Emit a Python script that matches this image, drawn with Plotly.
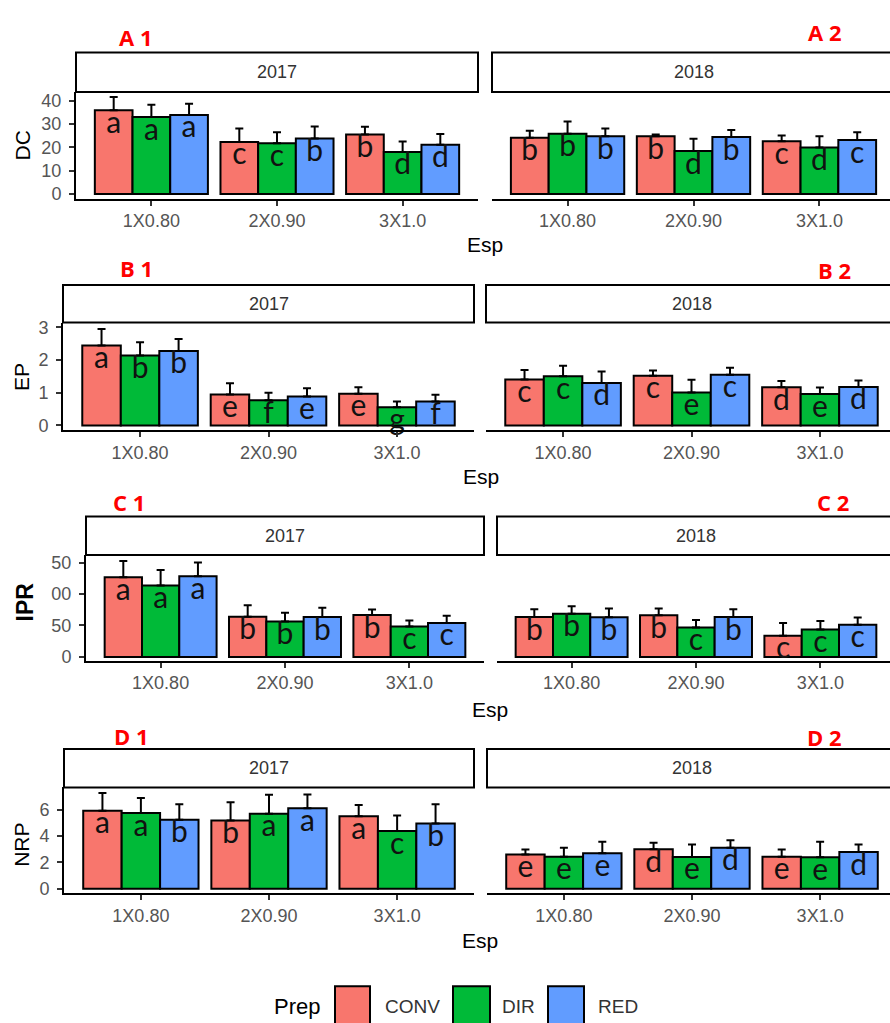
import plotly.graph_objects as go

# ---------------- data ----------------
ESP = ["1X0.80", "2X0.90", "3X1.0"]
PREP = ["CONV", "DIR", "RED"]
YEARS = ["2017", "2018"]
COLORS = ["#F8766D", "#00BA38", "#619CFF"]

# rows: [CONV, DIR, RED], each over ESP
DC_2017_MEAN = [[35.9, 22.3, 25.5], [33.0, 21.7, 18.0], [33.9, 23.8, 21.1]]
DC_2017_SD = [[5.7, 5.8, 3.3], [5.3, 4.8, 4.5], [4.8, 5.1, 4.6]]
DC_2018_MEAN = [[24.1, 24.7, 22.6], [25.8, 18.4, 19.9], [24.7, 24.4, 23.1]]
DC_2018_SD = [[3.0, 0.8, 2.5], [5.3, 5.3, 4.9], [3.4, 3.0, 3.4]]
DC_2017_LET = [["a", "c", "b"], ["a", "c", "d"], ["a", "b", "d"]]
DC_2018_LET = [["b", "b", "c"], ["b", "d", "d"], ["b", "b", "c"]]
DC_TICKS = [0, 10, 20, 30, 40]

EP_2017_MEAN = [[2.45, 0.95, 0.97], [2.14, 0.77, 0.56], [2.28, 0.89, 0.73]]
EP_2017_SD = [[0.50, 0.34, 0.20], [0.41, 0.23, 0.17], [0.37, 0.25, 0.21]]
EP_2018_MEAN = [[1.41, 1.52, 1.17], [1.51, 1.01, 0.96], [1.30, 1.55, 1.18]]
EP_2018_SD = [[0.29, 0.16, 0.19], [0.32, 0.39, 0.20], [0.35, 0.22, 0.20]]
EP_2017_LET = [["a", "e", "e"], ["b", "f", "g"], ["b", "e", "f"]]
EP_2018_LET = [["c", "c", "d"], ["c", "e", "e"], ["d", "c", "d"]]
EP_TICKS = [0, 1, 2, 3]

IPR_2017_MEAN = [[126.6, 64.0, 66.6], [113.4, 56.2, 48.4], [128.0, 63.4, 54.1]]
IPR_2017_SD = [[25.9, 18.2, 8.9], [24.6, 14.1, 9.4], [22.0, 14.7, 11.5]]
IPR_2018_MEAN = [[63.4, 66.1, 33.8], [68.8, 46.9, 43.8], [63.0, 63.4, 51.0]]
IPR_2018_SD = [[12.5, 10.9, 20.3], [11.8, 11.9, 13.4], [14.0, 12.5, 11.5]]
IPR_2017_LET = [["a", "b", "b"], ["a", "b", "c"], ["a", "b", "c"]]
IPR_2018_LET = [["b", "b", "c"], ["b", "c", "c"], ["b", "b", "c"]]
IPR_TICKS = [0, 50, 100, 150]
IPR_TICKTEXT = ["0", "50", "00", "50"]  # as visible (cropped) in the source

NRP_2017_MEAN = [[5.93, 5.18, 5.50], [5.75, 5.70, 4.38], [5.25, 6.12, 4.95]]
NRP_2017_SD = [[1.34, 1.39, 0.87], [1.15, 1.44, 1.19], [1.17, 1.04, 1.47]]
NRP_2018_MEAN = [[2.61, 3.01, 2.44], [2.44, 2.42, 2.39], [2.71, 3.11, 2.79]]
NRP_2018_SD = [[0.38, 0.48, 0.55], [0.67, 0.94, 1.19], [0.87, 0.58, 0.57]]
NRP_2017_LET = [["a", "b", "a"], ["a", "a", "c"], ["b", "a", "b"]]
NRP_2018_LET = [["e", "d", "e"], ["e", "e", "e"], ["e", "d", "d"]]
NRP_TICKS = [0, 2, 4, 6]

# ---------------- layout helpers ----------------
W, H = 890, 1023


def px(x):
    return x / W


def py(y):
    return 1 - y / H


ROWS = [
    dict(name="DC", mean=[DC_2017_MEAN, DC_2018_MEAN], sd=[DC_2017_SD, DC_2018_SD],
         let=[DC_2017_LET, DC_2018_LET], yrange=[-2.1, 43.7], tickvals=DC_TICKS,
         ticktext=[str(t) for t in DC_TICKS], strip=(48, 88), bottom=196,
         panels=[(76, 478), (492, 895)], title_xy=(22, 142), bold=False,
         esp_xy=(485, 242), tags=[("A 1", 135, 32), ("A 2", 824, 27)]),
    dict(name="EP", mean=[EP_2017_MEAN, EP_2018_MEAN], sd=[EP_2017_SD, EP_2018_SD],
         let=[EP_2017_LET, EP_2018_LET], yrange=[-0.15, 3.15], tickvals=EP_TICKS,
         ticktext=[str(t) for t in EP_TICKS], strip=(283, 321), bottom=430,
         panels=[(63, 474), (486, 897)], title_xy=(22, 376), bold=False,
         esp_xy=(481, 477), tags=[("B 1", 136, 266), ("B 2", 834, 268)]),
    dict(name="IPR", mean=[IPR_2017_MEAN, IPR_2018_MEAN], sd=[IPR_2017_SD, IPR_2018_SD],
         let=[IPR_2017_LET, IPR_2018_LET], yrange=[-6.2, 161.9], tickvals=IPR_TICKS,
         ticktext=IPR_TICKTEXT, strip=(517, 556), bottom=663,
         panels=[(86, 484), (497, 895)], title_xy=(25, 604), bold=True,
         esp_xy=(490, 712), tags=[("C 1", 129, 502), ("C 2", 833, 502)]),
    dict(name="NRP", mean=[NRP_2017_MEAN, NRP_2018_MEAN], sd=[NRP_2017_SD, NRP_2018_SD],
         let=[NRP_2017_LET, NRP_2018_LET], yrange=[-0.34, 7.69], tickvals=NRP_TICKS,
         ticktext=[str(t) for t in NRP_TICKS], strip=(752, 791), bottom=898,
         panels=[(64, 474), (487, 897)], title_xy=(22, 849), bold=False,
         esp_xy=(480, 946), tags=[("D 1", 131, 739), ("D 2", 824, 740)]),
]

TICK_FONT = dict(family="Liberation Sans, Arial, sans-serif", size=18, color="#555555")
LETTER_FONT = dict(family="Lato, sans-serif", size=30, color="#111111")

fig = go.Figure()
shapes = []
annotations = []
layout = {}

k = 0
for row in ROWS:
    s_top, s_bot = row["strip"]
    for yi, year in enumerate(YEARS):
        k += 1
        xa = "x" if k == 1 else f"x{k}"
        ya = "y" if k == 1 else f"y{k}"
        x0, x1 = row["panels"][yi]
        for j, prep in enumerate(PREP):
            means = row["mean"][yi][j]
            sds = row["sd"][yi][j]
            fig.add_trace(go.Bar(
                x=[0, 1, 2], y=means, name=prep, xaxis=xa, yaxis=ya,
                marker=dict(color=COLORS[j], line=dict(color="black", width=2)),
                error_y=dict(type="data", symmetric=False, array=sds,
                             arrayminus=[0] * len(sds), color="black",
                             thickness=2, width=4),
                showlegend=False, hoverinfo="skip",
            ))
        for j, prep in enumerate(PREP):
            means = row["mean"][yi][j]
            fig.add_trace(go.Scatter(
                x=[i + (j - 1) * 0.3 for i in range(len(ESP))], y=means,
                text=row["let"][yi][j], mode="text", textposition="bottom center",
                textfont=LETTER_FONT, xaxis=xa, yaxis=ya, cliponaxis=False,
                showlegend=False, hoverinfo="skip",
            ))
        xkey = "xaxis" if k == 1 else f"xaxis{k}"
        ykey = "yaxis" if k == 1 else f"yaxis{k}"
        dom_x = [px(x0), min(px(x1), 1.0)]
        rng_x = [-0.6, 2.6]
        if x1 > W:
            # panel extends past the canvas edge: keep scale by trimming the range
            frac = (W - x0) / (x1 - x0)
            rng_x = [-0.6, -0.6 + 3.2 * frac]
        layout[xkey] = dict(
            domain=dom_x, range=rng_x, anchor=ya, tickvals=[0, 1, 2], ticktext=ESP,
            showline=True, linecolor="black", linewidth=2, ticks="outside",
            ticklen=5, tickwidth=1.5, tickcolor="#333333", tickfont=TICK_FONT,
            showgrid=False, zeroline=False, fixedrange=True, ticklabelstandoff=0,
        )
        first = yi == 0
        layout[ykey] = dict(
            domain=[py(row["bottom"]), py(s_bot)], range=row["yrange"], anchor=xa,
            tickvals=row["tickvals"], ticktext=row["ticktext"],
            showline=first, linecolor="black", linewidth=2,
            ticks="outside" if first else "", ticklen=5, tickwidth=1.5,
            tickcolor="#333333", tickfont=TICK_FONT, showticklabels=first,
            showgrid=False, zeroline=False, fixedrange=True, ticklabelstandoff=4,
        )
        # facet strip
        shapes.append(dict(type="rect", xref="paper", yref="paper",
                           x0=px(x0), x1=px(x1), y0=py(s_bot), y1=py(s_top),
                           line=dict(color="black", width=2), fillcolor="white",
                           layer="below"))
        annotations.append(dict(text=year, xref="paper", yref="paper",
                                x=px((x0 + x1) / 2), y=py((s_top + s_bot) / 2),
                                showarrow=False,
                                font=dict(family="Liberation Sans, Arial, sans-serif",
                                          size=18, color="#333333"),
                                xanchor="center", yanchor="middle"))
    # y title
    tx, ty = row["title_xy"]
    annotations.append(dict(
        text=f"<b>{row['name']}</b>" if row["bold"] else row["name"],
        xref="paper", yref="paper", x=px(tx), y=py(ty), textangle=-90,
        showarrow=False, xanchor="center", yanchor="middle",
        font=dict(family="Liberation Sans, Arial, sans-serif",
                  size=23 if row["bold"] else 21, color="black")))
    # x title
    ex, ey = row["esp_xy"]
    annotations.append(dict(text="Esp", xref="paper", yref="paper", x=px(ex), y=py(ey),
                            showarrow=False, xanchor="center", yanchor="middle",
                            font=dict(family="Liberation Sans, Arial, sans-serif",
                                      size=21, color="black")))
    # red panel tags
    for tag, gx, gy in row["tags"]:
        annotations.append(dict(text=f"<b>{tag}</b>", xref="paper", yref="paper",
                                x=px(gx), y=py(gy), showarrow=False,
                                xanchor="center", yanchor="middle",
                                font=dict(family="Open Sans, sans-serif", size=22,
                                          color="#FF0000")))

# ---------------- legend (manual, at bottom) ----------------
annotations.append(dict(text="Prep", xref="paper", yref="paper", x=px(297), y=py(1012),
                        showarrow=False, xanchor="center", yanchor="middle",
                        font=dict(family="Liberation Sans, Arial, sans-serif",
                                  size=22, color="black")))
LEG_BOX = [(335, 370), (453, 490), (548, 584)]
LEG_TXT = [412, 518, 618]
for j, prep in enumerate(PREP):
    b0, b1 = LEG_BOX[j]
    shapes.append(dict(type="rect", xref="paper", yref="paper",
                       x0=px(b0), x1=px(b1), y0=py(1035), y1=py(992),
                       line=dict(color="black", width=2), fillcolor=COLORS[j]))
    annotations.append(dict(text=prep, xref="paper", yref="paper", x=px(LEG_TXT[j]),
                            y=py(1012), showarrow=False, xanchor="center",
                            yanchor="middle",
                            font=dict(family="Liberation Sans, Arial, sans-serif",
                                      size=19, color="#333333")))

fig.update_layout(
    width=W, height=H, margin=dict(l=0, r=0, t=0, b=0),
    paper_bgcolor="white", plot_bgcolor="rgba(0,0,0,0)",
    barmode="group", bargap=0.1, bargroupgap=0.0,
    shapes=shapes, annotations=annotations, showlegend=False,
    **layout,
)

fig.write_html("out.html")
